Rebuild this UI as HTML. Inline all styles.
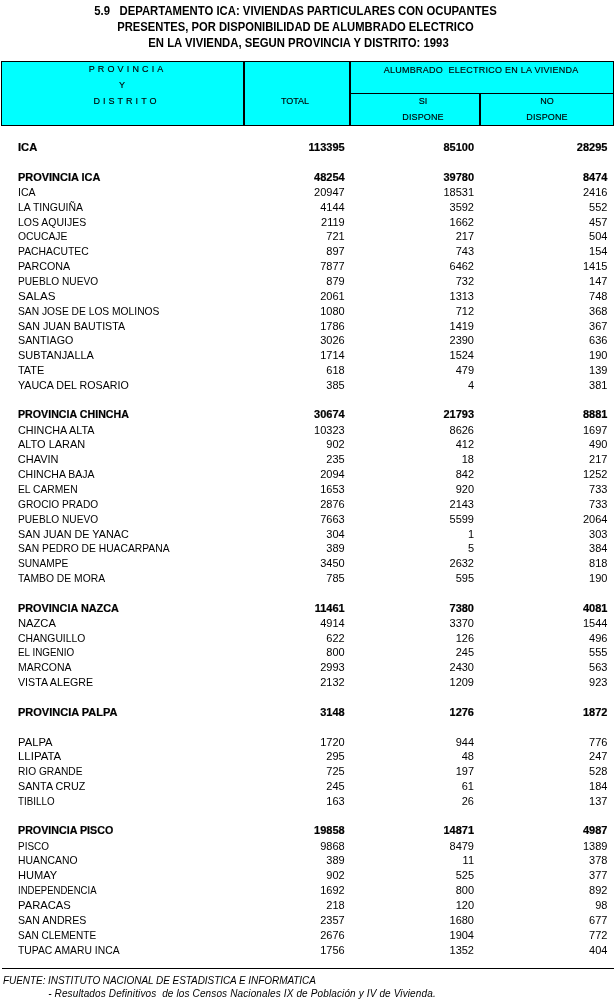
<!DOCTYPE html>
<html><head><meta charset="utf-8">
<style>
html,body{margin:0;padding:0;background:#fff;}
body{width:615px;height:999px;position:relative;overflow:hidden;font-family:"Liberation Sans",sans-serif;color:#000;font-size:11px;}
.t{position:absolute;left:0;width:615px;text-align:center;font-weight:bold;font-size:12px;line-height:14px;white-space:nowrap;}
.hd{position:absolute;left:1px;top:61px;width:613px;height:65px;background:#000;}
.hd div{position:absolute;background:#00ffff;}
.h{position:absolute;font-size:9.5px;transform:scaleX(0.947);-webkit-text-stroke:0.15px #000;line-height:10px;white-space:nowrap;text-align:center;}
.r{position:absolute;left:0;width:615px;height:14px;line-height:14px;white-space:nowrap;}
.r span{position:absolute;top:0;}
.r .n{left:17.8px;transform-origin:0 0;}
.r .c1{right:270.3px;}
.r .c2{right:141px;}
.r .c3{right:7.6px;}
.b{font-weight:bold;-webkit-text-stroke:0.2px #000;}
.f{position:absolute;left:3px;font-style:italic;font-size:10px;line-height:11px;white-space:nowrap;}
</style></head><body><div id="w" style="position:absolute;left:0;top:0;width:615px;height:999px;will-change:transform">
<div class="t" style="top:3.8px;left:-12.3px;transform:scaleX(0.944)">5.9&nbsp;&nbsp; DEPARTAMENTO ICA: VIVIENDAS PARTICULARES CON OCUPANTES</div>
<div class="t" style="top:19.8px;left:-12px;transform:scaleX(0.936)">PRESENTES, POR DISPONIBILIDAD DE ALUMBRADO ELECTRICO</div>
<div class="t" style="top:36px;left:-8.7px;transform:scaleX(0.943)">EN LA VIVIENDA, SEGUN PROVINCIA Y DISTRITO: 1993</div>
<div class="hd">
<div style="left:1px;top:1px;width:241px;height:63px"></div>
<div style="left:244px;top:1px;width:104px;height:63px"></div>
<div style="left:350px;top:1px;width:262px;height:31px"></div>
<div style="left:350px;top:33px;width:128px;height:31px"></div>
<div style="left:480px;top:33px;width:132px;height:31px"></div>
</div>
<div class="h" id="h1" style="left:25.6px;width:200px;top:64.2px;letter-spacing:3.32px;text-indent:3.32px">PROVINCIA</div>
<div class="h" id="h2" style="left:22.3px;width:200px;top:80px">Y</div>
<div class="h" id="h3" style="left:25.3px;width:200px;top:96.0px;letter-spacing:3.2px;text-indent:3.2px">DISTRITO</div>
<div class="h" id="h4" style="left:195px;width:200px;top:96.0px">TOTAL</div>
<div class="h" id="h5" style="left:281px;width:400px;top:64.5px;letter-spacing:0.26px;text-indent:0.26px">ALUMBRADO&nbsp; ELECTRICO EN LA VIVIENDA</div>
<div class="h" id="h6" style="left:322.7px;width:200px;top:96.0px">SI</div>
<div class="h" id="h7" style="left:323px;width:200px;top:112.0px;letter-spacing:0.15px">DISPONE</div>
<div class="h" id="h8" style="left:447px;width:200px;top:96.0px">NO</div>
<div class="h" id="h9" style="left:447px;width:200px;top:112.0px;letter-spacing:0.15px">DISPONE</div>
<div class="r b" style="top:139.50px"><span class="n" style="transform:scaleX(1.017)">ICA</span><span class="c1">113395</span><span class="c2">85100</span><span class="c3">28295</span></div>
<div class="r b" style="top:169.50px"><span class="n" style="transform:scaleX(0.9963)">PROVINCIA ICA</span><span class="c1">48254</span><span class="c2">39780</span><span class="c3">8474</span></div>
<div class="r" style="top:184.50px"><span class="n" style="transform:scaleX(0.9578)">ICA</span><span class="c1">20947</span><span class="c2">18531</span><span class="c3">2416</span></div>
<div class="r" style="top:199.50px"><span class="n" style="transform:scaleX(0.952)">LA TINGUIÑA</span><span class="c1">4144</span><span class="c2">3592</span><span class="c3">552</span></div>
<div class="r" style="top:214.50px"><span class="n" style="transform:scaleX(0.954)">LOS AQUIJES</span><span class="c1">2119</span><span class="c2">1662</span><span class="c3">457</span></div>
<div class="r" style="top:228.50px"><span class="n" style="transform:scaleX(0.9407)">OCUCAJE</span><span class="c1">721</span><span class="c2">217</span><span class="c3">504</span></div>
<div class="r" style="top:243.50px"><span class="n" style="transform:scaleX(0.9421)">PACHACUTEC</span><span class="c1">897</span><span class="c2">743</span><span class="c3">154</span></div>
<div class="r" style="top:258.50px"><span class="n" style="transform:scaleX(0.9748)">PARCONA</span><span class="c1">7877</span><span class="c2">6462</span><span class="c3">1415</span></div>
<div class="r" style="top:273.50px"><span class="n" style="transform:scaleX(0.9232)">PUEBLO NUEVO</span><span class="c1">879</span><span class="c2">732</span><span class="c3">147</span></div>
<div class="r" style="top:288.50px"><span class="n" style="transform:scaleX(1.0595)">SALAS</span><span class="c1">2061</span><span class="c2">1313</span><span class="c3">748</span></div>
<div class="r" style="top:303.50px"><span class="n" style="transform:scaleX(0.9325)">SAN JOSE DE LOS MOLINOS</span><span class="c1">1080</span><span class="c2">712</span><span class="c3">368</span></div>
<div class="r" style="top:318.50px"><span class="n" style="transform:scaleX(0.9696)">SAN JUAN BAUTISTA</span><span class="c1">1786</span><span class="c2">1419</span><span class="c3">367</span></div>
<div class="r" style="top:332.50px"><span class="n" style="transform:scaleX(0.9744)">SANTIAGO</span><span class="c1">3026</span><span class="c2">2390</span><span class="c3">636</span></div>
<div class="r" style="top:347.50px"><span class="n" style="transform:scaleX(0.996)">SUBTANJALLA</span><span class="c1">1714</span><span class="c2">1524</span><span class="c3">190</span></div>
<div class="r" style="top:362.50px"><span class="n" style="transform:scaleX(0.9922)">TATE</span><span class="c1">618</span><span class="c2">479</span><span class="c3">139</span></div>
<div class="r" style="top:377.50px"><span class="n" style="transform:scaleX(0.9689)">YAUCA DEL ROSARIO</span><span class="c1">385</span><span class="c2">4</span><span class="c3">381</span></div>
<div class="r b" style="top:406.50px"><span class="n" style="transform:scaleX(0.9689)">PROVINCIA CHINCHA</span><span class="c1">30674</span><span class="c2">21793</span><span class="c3">8881</span></div>
<div class="r" style="top:422.50px"><span class="n" style="transform:scaleX(0.9817)">CHINCHA ALTA</span><span class="c1">10323</span><span class="c2">8626</span><span class="c3">1697</span></div>
<div class="r" style="top:436.50px"><span class="n" style="transform:scaleX(0.997)">ALTO LARAN</span><span class="c1">902</span><span class="c2">412</span><span class="c3">490</span></div>
<div class="r" style="top:451.50px"><span class="n" style="transform:scaleX(1.0)">CHAVIN</span><span class="c1">235</span><span class="c2">18</span><span class="c3">217</span></div>
<div class="r" style="top:466.50px"><span class="n" style="transform:scaleX(0.9567)">CHINCHA BAJA</span><span class="c1">2094</span><span class="c2">842</span><span class="c3">1252</span></div>
<div class="r" style="top:481.50px"><span class="n" style="transform:scaleX(0.9351)">EL CARMEN</span><span class="c1">1653</span><span class="c2">920</span><span class="c3">733</span></div>
<div class="r" style="top:496.50px"><span class="n" style="transform:scaleX(0.9232)">GROCIO PRADO</span><span class="c1">2876</span><span class="c2">2143</span><span class="c3">733</span></div>
<div class="r" style="top:511.50px"><span class="n" style="transform:scaleX(0.9232)">PUEBLO NUEVO</span><span class="c1">7663</span><span class="c2">5599</span><span class="c3">2064</span></div>
<div class="r" style="top:526.50px"><span class="n" style="transform:scaleX(0.9837)">SAN JUAN DE YANAC</span><span class="c1">304</span><span class="c2">1</span><span class="c3">303</span></div>
<div class="r" style="top:540.50px"><span class="n" style="transform:scaleX(0.9365)">SAN PEDRO DE HUACARPANA</span><span class="c1">389</span><span class="c2">5</span><span class="c3">384</span></div>
<div class="r" style="top:555.50px"><span class="n" style="transform:scaleX(0.9221)">SUNAMPE</span><span class="c1">3450</span><span class="c2">2632</span><span class="c3">818</span></div>
<div class="r" style="top:570.50px"><span class="n" style="transform:scaleX(0.9389)">TAMBO DE MORA</span><span class="c1">785</span><span class="c2">595</span><span class="c3">190</span></div>
<div class="r b" style="top:600.50px"><span class="n" style="transform:scaleX(0.9861)">PROVINCIA NAZCA</span><span class="c1">11461</span><span class="c2">7380</span><span class="c3">4081</span></div>
<div class="r" style="top:615.50px"><span class="n" style="transform:scaleX(1.0169)">NAZCA</span><span class="c1">4914</span><span class="c2">3370</span><span class="c3">1544</span></div>
<div class="r" style="top:630.50px"><span class="n" style="transform:scaleX(0.9411)">CHANGUILLO</span><span class="c1">622</span><span class="c2">126</span><span class="c3">496</span></div>
<div class="r" style="top:644.50px"><span class="n" style="transform:scaleX(0.8977)">EL INGENIO</span><span class="c1">800</span><span class="c2">245</span><span class="c3">555</span></div>
<div class="r" style="top:659.50px"><span class="n" style="transform:scaleX(0.9524)">MARCONA</span><span class="c1">2993</span><span class="c2">2430</span><span class="c3">563</span></div>
<div class="r" style="top:674.50px"><span class="n" style="transform:scaleX(0.97)">VISTA ALEGRE</span><span class="c1">2132</span><span class="c2">1209</span><span class="c3">923</span></div>
<div class="r b" style="top:704.50px"><span class="n" style="transform:scaleX(1.001)">PROVINCIA PALPA</span><span class="c1">3148</span><span class="c2">1276</span><span class="c3">1872</span></div>
<div class="r" style="top:734.50px"><span class="n" style="transform:scaleX(1.0215)">PALPA</span><span class="c1">1720</span><span class="c2">944</span><span class="c3">776</span></div>
<div class="r" style="top:748.50px"><span class="n" style="transform:scaleX(1.0404)">LLIPATA</span><span class="c1">295</span><span class="c2">48</span><span class="c3">247</span></div>
<div class="r" style="top:763.50px"><span class="n" style="transform:scaleX(0.926)">RIO GRANDE</span><span class="c1">725</span><span class="c2">197</span><span class="c3">528</span></div>
<div class="r" style="top:778.50px"><span class="n" style="transform:scaleX(0.9778)">SANTA CRUZ</span><span class="c1">245</span><span class="c2">61</span><span class="c3">184</span></div>
<div class="r" style="top:793.50px"><span class="n" style="transform:scaleX(0.8916)">TIBILLO</span><span class="c1">163</span><span class="c2">26</span><span class="c3">137</span></div>
<div class="r b" style="top:822.50px"><span class="n" style="transform:scaleX(0.972)">PROVINCIA PISCO</span><span class="c1">19858</span><span class="c2">14871</span><span class="c3">4987</span></div>
<div class="r" style="top:838.50px"><span class="n" style="transform:scaleX(0.9049)">PISCO</span><span class="c1">9868</span><span class="c2">8479</span><span class="c3">1389</span></div>
<div class="r" style="top:852.50px"><span class="n" style="transform:scaleX(0.9448)">HUANCANO</span><span class="c1">389</span><span class="c2">11</span><span class="c3">378</span></div>
<div class="r" style="top:867.50px"><span class="n" style="transform:scaleX(1.0055)">HUMAY</span><span class="c1">902</span><span class="c2">525</span><span class="c3">377</span></div>
<div class="r" style="top:882.50px"><span class="n" style="transform:scaleX(0.8679)">INDEPENDENCIA</span><span class="c1">1692</span><span class="c2">800</span><span class="c3">892</span></div>
<div class="r" style="top:897.50px"><span class="n" style="transform:scaleX(1.0202)">PARACAS</span><span class="c1">218</span><span class="c2">120</span><span class="c3">98</span></div>
<div class="r" style="top:912.50px"><span class="n" style="transform:scaleX(0.9636)">SAN ANDRES</span><span class="c1">2357</span><span class="c2">1680</span><span class="c3">677</span></div>
<div class="r" style="top:927.50px"><span class="n" style="transform:scaleX(0.9127)">SAN CLEMENTE</span><span class="c1">2676</span><span class="c2">1904</span><span class="c3">772</span></div>
<div class="r" style="top:942.50px"><span class="n" style="transform:scaleX(0.9405)">TUPAC AMARU INCA</span><span class="c1">1756</span><span class="c2">1352</span><span class="c3">404</span></div>
<div style="position:absolute;left:2px;top:968px;width:612px;height:1px;background:#000"></div>
<div class="f" style="top:975.3px;letter-spacing:-0.06px">FUENTE: INSTITUTO NACIONAL DE ESTADISTICA E INFORMATICA</div>
<div class="f" style="top:987.5px;left:48.2px;letter-spacing:0.13px">- Resultados Definitivos&nbsp; de los Censos Nacionales IX de Población y IV de Vivienda.</div>
</div></body></html>
